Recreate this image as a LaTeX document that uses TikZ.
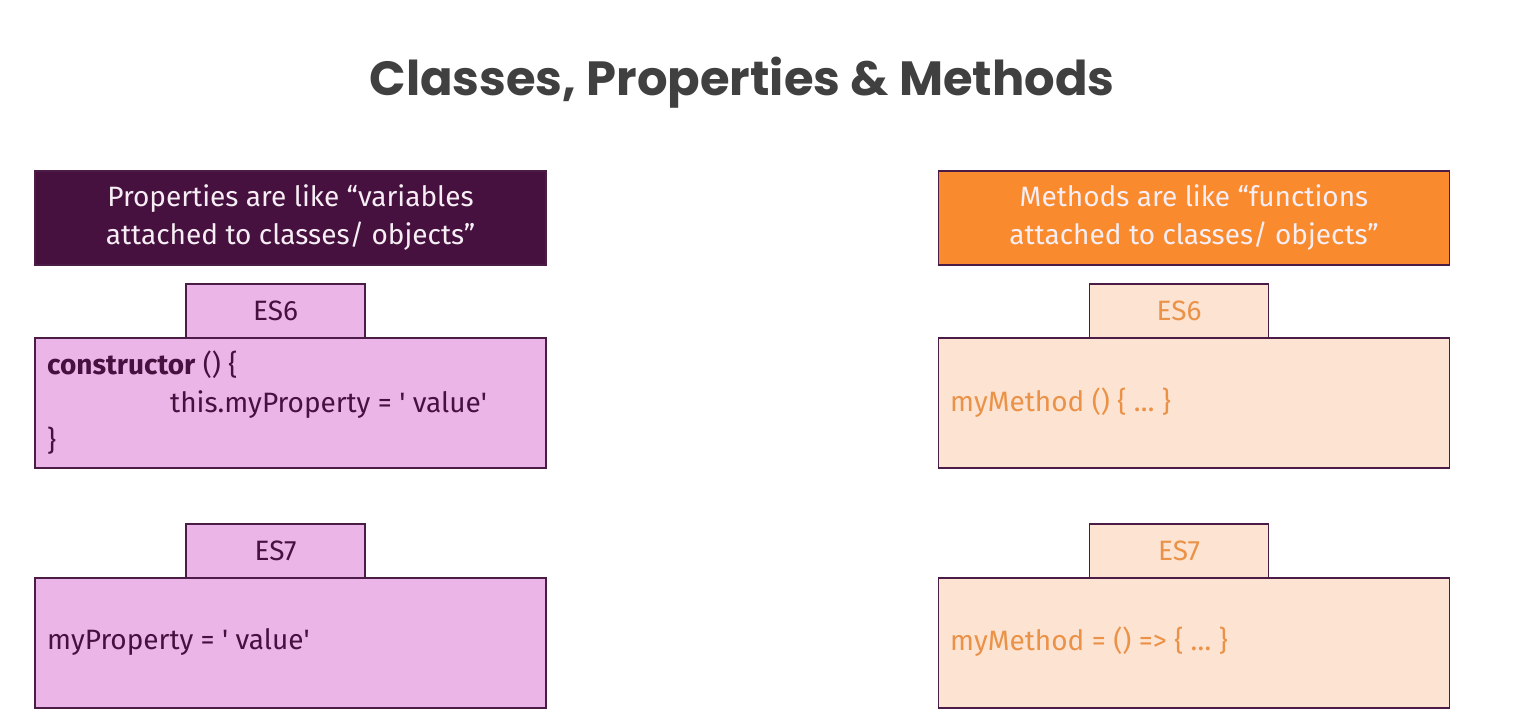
\documentclass[tikz,border=0pt]{standalone}
\usepackage{fontspec}
\setmainfont{Fira Sans}
\newfontfamily\titlefont{Poppins}
\definecolor{plum}{HTML}{46113F}
\definecolor{plumline}{HTML}{4A1C46}
\definecolor{pinkfill}{HTML}{ECB5E8}
\definecolor{peachfill}{HTML}{FDE3D1}
\definecolor{orangehd}{HTML}{F98A2D}
\definecolor{orangetx}{HTML}{EB9249}
\definecolor{titlegray}{HTML}{404040}
\definecolor{headtext}{HTML}{F6EEF4}
\newcommand{\sq}{\textquotesingle}
\begin{document}
\begin{tikzpicture}[x=1pt,y=-1pt,
  box/.style={rectangle, draw=plumline, line width=1.5pt, inner sep=0pt},
  header/.style={box, minimum width=511pt, minimum height=94pt, text=headtext,
    align=center, font=\fontsize{28}{38}\selectfont},
  tab/.style={box, minimum width=179pt, minimum height=54pt,
    font=\fontsize{28}{30}\selectfont},
  codebox/.style={box, minimum width=511pt, minimum height=130pt},
  code/.style={anchor=west, align=left, inner sep=0pt,
    font=\fontsize{28}{38}\selectfont},
  pinkpart/.style={fill=pinkfill, text=plum},
  peachpart/.style={fill=peachfill, text=orangetx}]
\fill[white] (0,0) rectangle (1514,726);
\useasboundingbox (0,0) rectangle (1514,726);

% title
\node[font=\titlefont\bfseries\fontsize{48}{58}\selectfont, text=titlegray]
  (title) at (742,83) {Classes, Properties \& Methods};

% properties column
\node[header, fill=plum] (prophead) at (290.5,218)
  {Properties are like “variables\\attached to classes/ objects”};
\node[tab, pinkpart] (proptabsix) at (275.5,311) {ES6};
\node[codebox, pinkpart] (propsix) at (290.5,403) {};
\node[code, text=plum] (propsixcode) at (47,403)
  {\textbf{constructor} () \{\\\hspace*{123pt}this.myProperty = \sq{} value\sq\\\}};
\node[tab, pinkpart] (proptabseven) at (275.5,551) {ES7};
\node[codebox, pinkpart] (propseven) at (290.5,643) {};
\node[code, text=plum] (propsevencode) at (47,642) {myProperty = \sq{} value\sq};

% methods column
\node[header, fill=orangehd] (methhead) at (1194,218)
  {Methods are like “functions\\attached to classes/ objects”};
\node[tab, peachpart] (methtabsix) at (1179,311) {ES6};
\node[codebox, peachpart] (methsix) at (1194,403) {};
\node[code, text=orangetx] (methsixcode) at (950,403) {myMethod () \{ … \}};
\node[tab, peachpart] (methtabseven) at (1179,551) {ES7};
\node[codebox, peachpart] (methseven) at (1194,643) {};
\node[code, text=orangetx] (methsevencode) at (950,642) {myMethod = () => \{ … \}};
\end{tikzpicture}
\end{document}
